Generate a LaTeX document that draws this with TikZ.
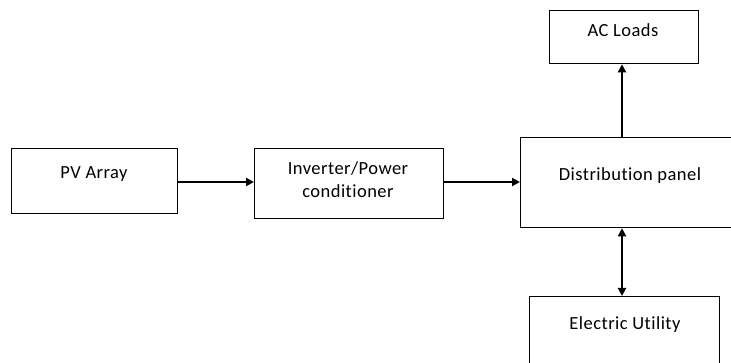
\documentclass[tikz,border=0pt]{standalone}
\usepackage{fontspec}
\setmainfont[Ligatures=NoCommon,LetterSpace=2.5]{Carlito}
\usetikzlibrary{arrows.meta}
\begin{document}
\begin{tikzpicture}[x=1pt,y=-1pt,
  box/.style={draw=black,line width=1.3pt,inner sep=0pt,anchor=north west},
  lbl/.style={inner sep=0pt,font=\fontsize{18.5}{23}\selectfont,align=center},
  conn/.style={line width=2pt,-{Triangle[length=8pt,width=8pt]}},
  conn2/.style={line width=2pt,{Triangle[length=8pt,width=8pt]}-{Triangle[length=8pt,width=8pt]}}]
\useasboundingbox (0,0) rectangle (731,363);
\clip (0,0) rectangle (731,363);
\node[box,minimum width=166pt,minimum height=65pt] (pv) at (11,148) {};
\node[box,minimum width=189pt,minimum height=70pt] (inv) at (254,148) {};
\node[box,minimum width=215pt,minimum height=90pt] (dist) at (520,137) {};
\node[box,minimum width=149pt,minimum height=53pt] (ac) at (549,10) {};
\node[box,minimum width=190pt,minimum height=90pt] (eu) at (529,296) {};
\node[lbl] (tpv) at (94,174) {PV Array};
\node[lbl] (tinv) at (348,180) {Inverter/Power\\conditioner};
\node[lbl] (tdist) at (630,176) {Distribution panel};
\node[lbl] (tac) at (623,30) {AC Loads};
\node[lbl] (teu) at (625,325) {Electric Utility};
\draw[conn] (pv.east |- 0,182) -- (inv.west |- 0,182);
\draw[conn] (inv.east |- 0,182) -- (dist.west |- 0,182);
\draw[conn] (dist.north -| 622,0) -- (ac.south -| 622,0);
\draw[conn2] (dist.south -| 622,0) -- (eu.north -| 622,0);
\end{tikzpicture}
\end{document}
